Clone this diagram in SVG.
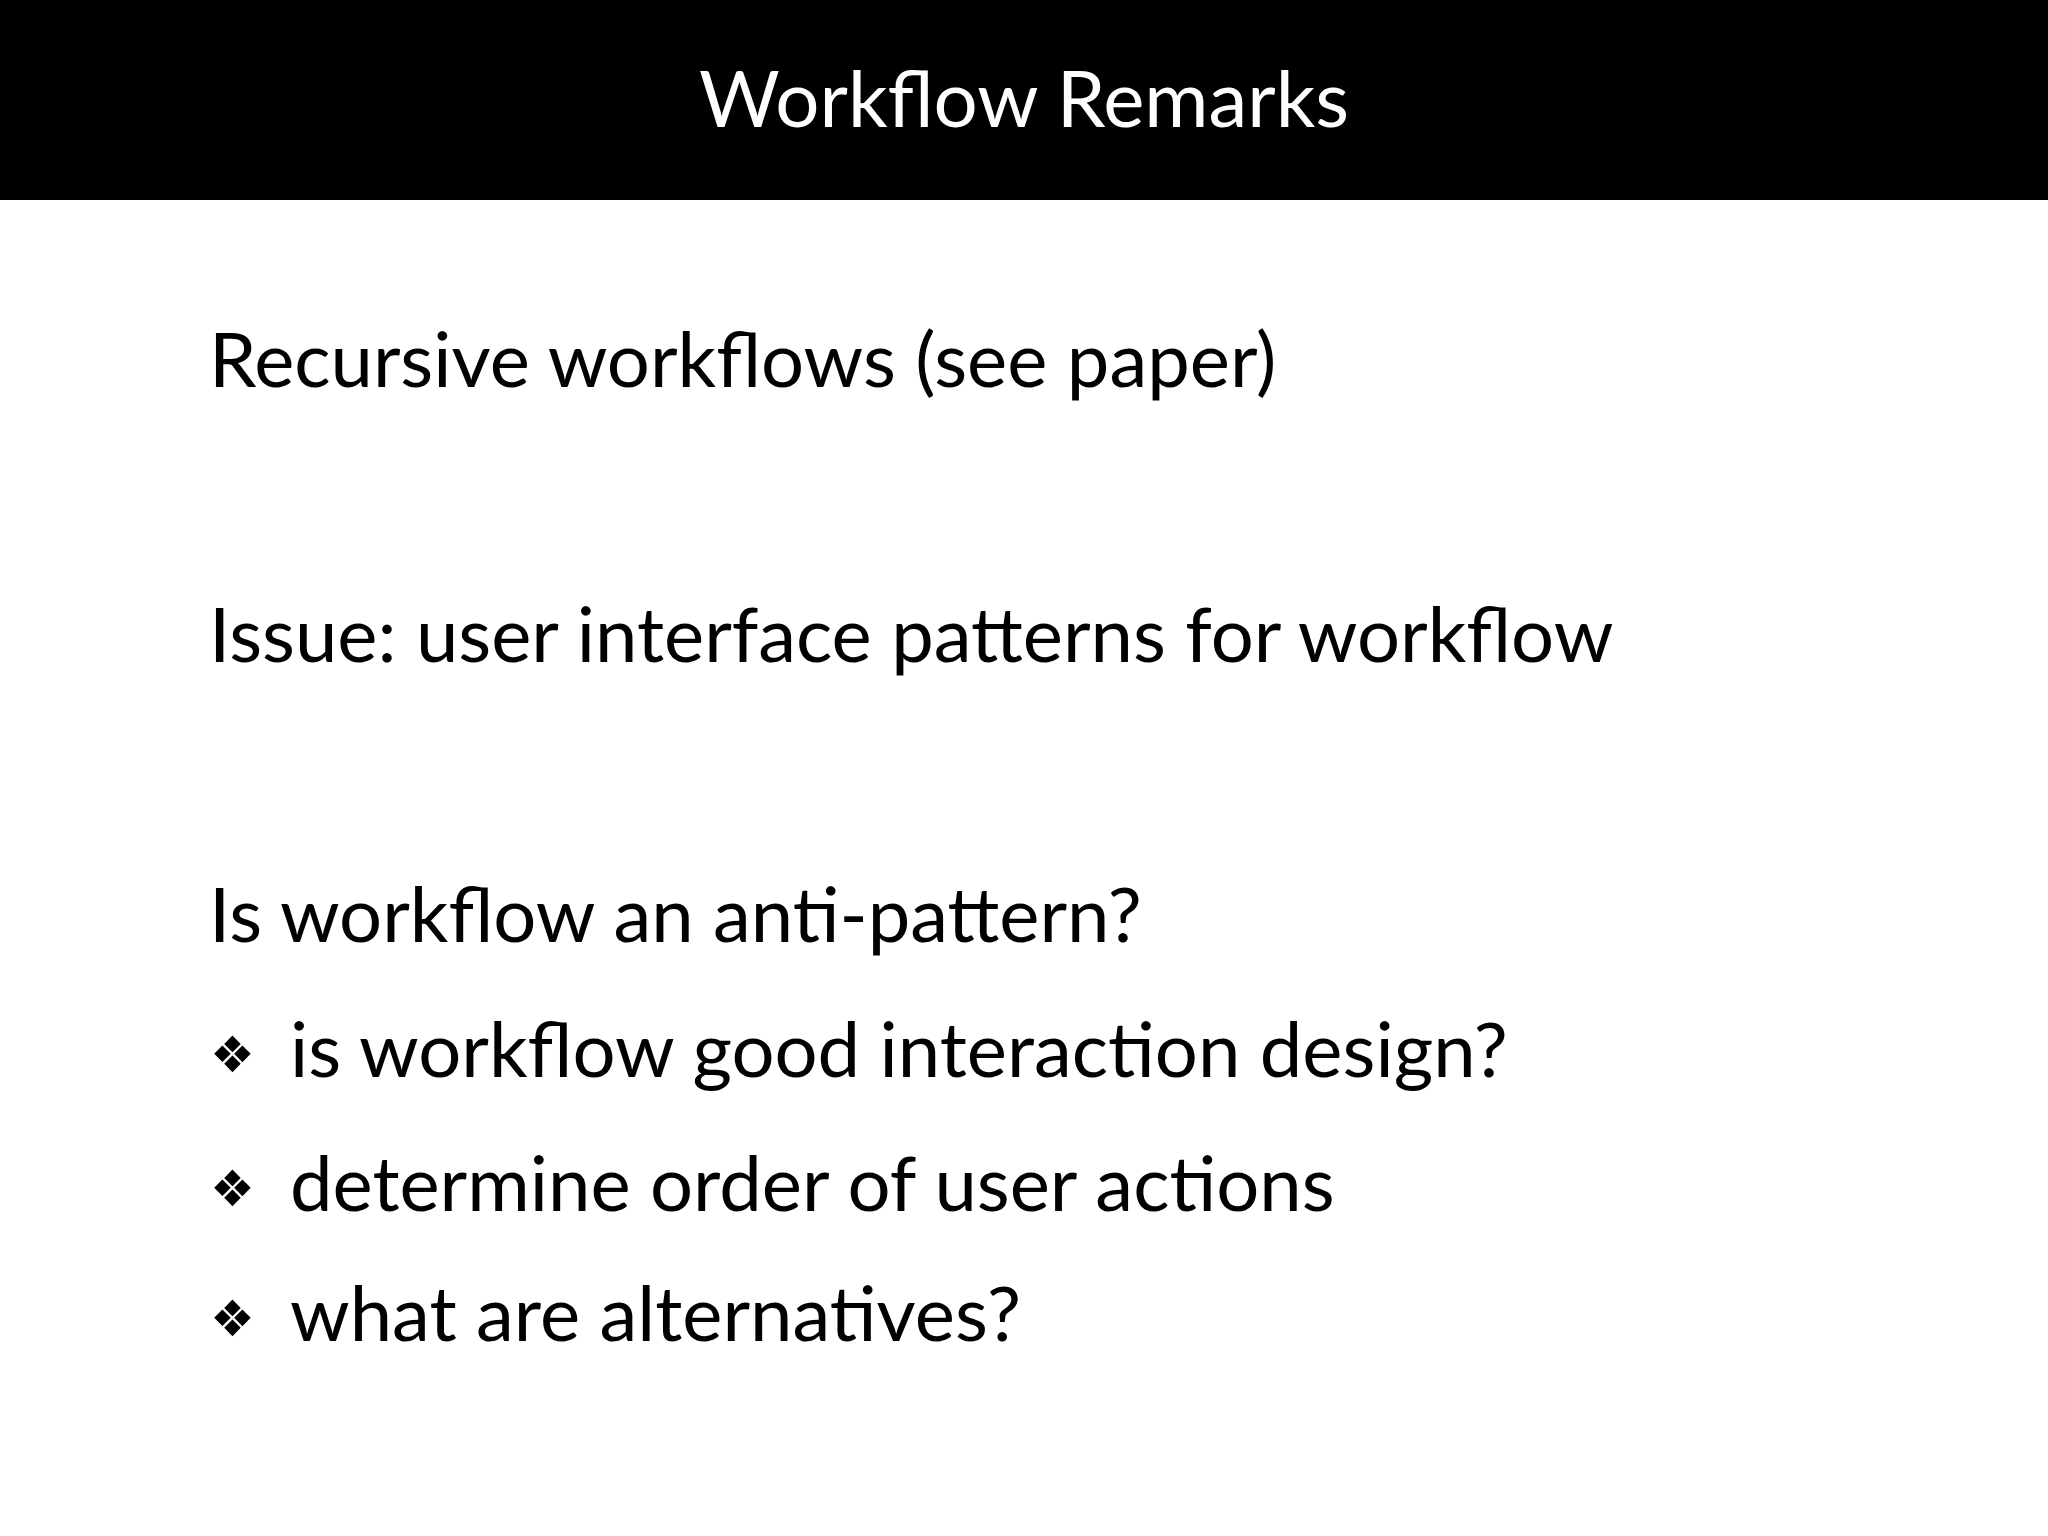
<svg xmlns="http://www.w3.org/2000/svg" width="2048" height="1536" viewBox="0 0 2048 1536">
<style>
.t{font-family:Lato,"Open Sans","DejaVu Sans",sans-serif;fill:#000;font-size:76px}
.b{font-family:"DejaVu Sans",sans-serif;font-size:50px;fill:#000}
</style>
<rect width="2048" height="1536" fill="#fff"/>
<g id="header">
<rect x="0" y="0" width="2048" height="200" fill="#000"/>
<text x="1024" y="127" text-anchor="middle" font-family="Lato,'Open Sans',sans-serif" font-size="78" fill="#fff">Workflow Remarks</text>
</g>
<g id="body">
<text class="t" x="209" y="387">Recursive workflows (see paper)</text>
<text class="t" x="209" y="662">Issue: user interface patterns for workflow</text>
<text class="t" x="209" y="942">Is workflow an anti-pattern?</text>
<text class="b" x="210" y="1072">❖</text>
<text class="t" x="290" y="1077">is workflow good interaction design?</text>
<text class="b" x="210" y="1206">❖</text>
<text class="t" x="290" y="1211">determine order of user actions</text>
<text class="b" x="210" y="1336">❖</text>
<text class="t" x="290" y="1341">what are alternatives?</text>
</g>
</svg>
